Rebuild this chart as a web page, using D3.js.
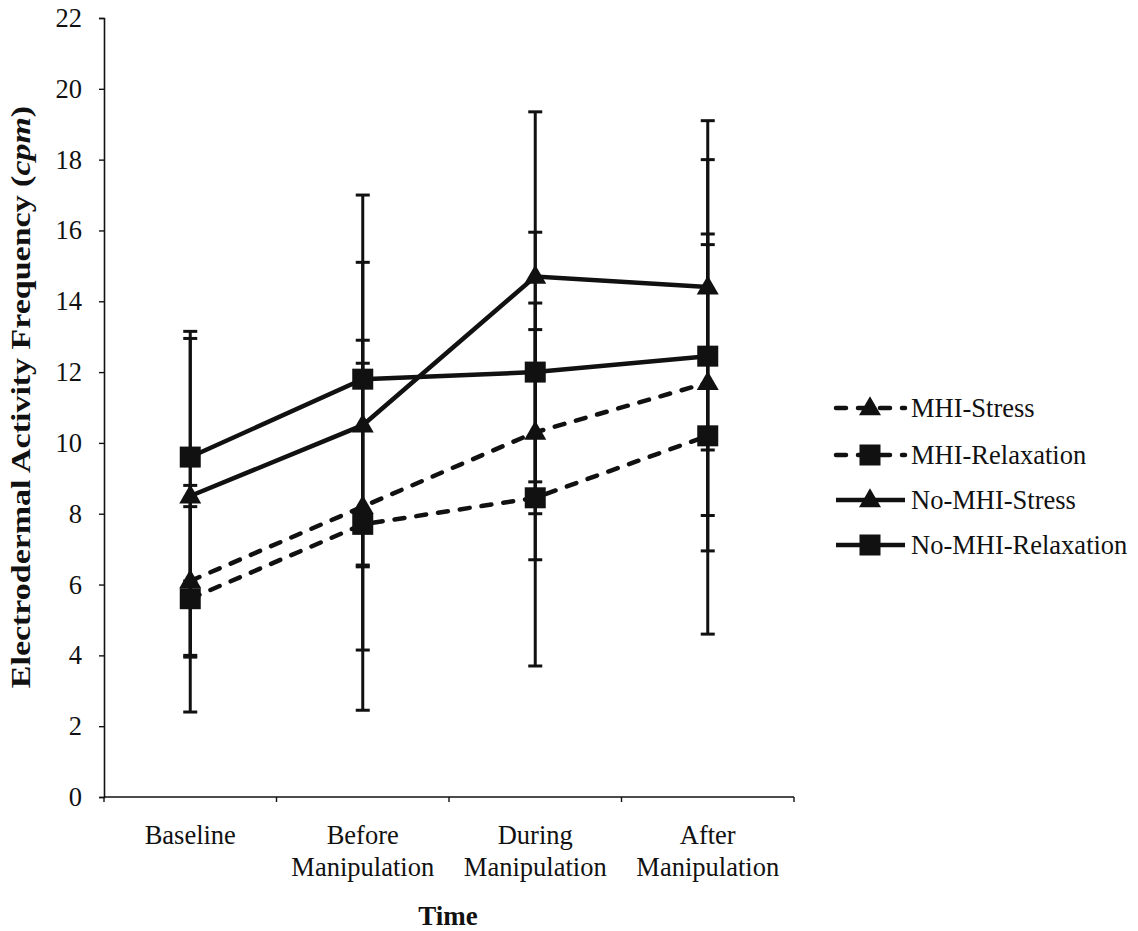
<!DOCTYPE html>
<html>
<head>
<meta charset="utf-8">
<script src="https://cdn.jsdelivr.net/npm/d3@7"></script>
<style>
  body { margin: 0; background: #fff; }
  svg { font-family: "Liberation Serif", "Times New Roman", serif; }
</style>
</head>
<body>
<svg id="chart" width="1138" height="931"></svg>
<script>
// categories on the x axis (two-line labels)
var timePoints = ["Baseline", "Before Manipulation", "During Manipulation", "After Manipulation"]
var tickLabels = [["Baseline"], ["Before", "Manipulation"], ["During", "Manipulation"], ["After", "Manipulation"]]
var yTicks = [0, 2, 4, 6, 8, 10, 12, 14, 16, 18, 20, 22]

var seriesNames = ["MHI-Stress", "MHI-Relaxation", "No-MHI-Stress", "No-MHI-Relaxation"]

// means
var mhiStress      = [6.1, 8.2, 10.3, 11.7]
var mhiRelax       = [5.6, 7.7, 8.45, 10.2]
var noMhiStress    = [8.5, 10.5, 14.7, 14.4]
var noMhiRelax     = [9.6, 11.8, 12.0, 12.45]

// error bar ends (lower / upper)
var mhiStressLo    = [4.0, 4.15, 6.7, 7.95]
var mhiStressHi    = [8.2, 12.25, 13.95, 15.6]
var mhiRelaxLo     = [2.4, 2.45, 3.7, 4.6]
var mhiRelaxHi     = [8.8, 12.9, 13.2, 15.9]
var noMhiStressLo  = [3.95, 6.5, 8.9, 9.8]
var noMhiStressHi  = [12.95, 15.1, 19.35, 19.1]
var noMhiRelaxLo   = [6.1, 6.55, 8.0, 6.95]
var noMhiRelaxHi   = [13.15, 17.0, 15.95, 18.0]

var series = [
  {name: seriesNames[0], vals: mhiStress, lo: mhiStressLo, hi: mhiStressHi, dashed: true, marker: "triangle"},
  {name: seriesNames[1], vals: mhiRelax, lo: mhiRelaxLo, hi: mhiRelaxHi, dashed: true, marker: "square"},
  {name: seriesNames[2], vals: noMhiStress, lo: noMhiStressLo, hi: noMhiStressHi, dashed: false, marker: "triangle"},
  {name: seriesNames[3], vals: noMhiRelax, lo: noMhiRelaxLo, hi: noMhiRelaxHi, dashed: false, marker: "square"}
]

var dims = {left: 104, right: 794, top: 18, bottom: 797}
var ink = "#111"
var fontSize = 26.5

var svg = d3.select("#chart")

var x = d3.scaleBand()
  .domain(timePoints)
  .range([dims.left, dims.right])
  .padding(0)

var y = d3.scaleLinear()
  .domain([0, 22])
  .range([dims.bottom, dims.top])

var cx = function(i) { return x(timePoints[i]) + x.bandwidth() / 2 }

// y axis
var yAxis = svg.append("g")
  .attr("transform", "translate(" + dims.left + ",0)")
  .call(d3.axisLeft(y).tickValues(yTicks).tickSize(5).tickPadding(17))
yAxis.select(".domain").attr("stroke", ink).attr("stroke-width", 1.6)
yAxis.selectAll(".tick line").attr("stroke", ink).attr("stroke-width", 1.4)
yAxis.selectAll("text")
  .attr("font-family", "Liberation Serif")
  .attr("font-size", fontSize)
  .attr("fill", ink)

// x axis: ticks at category boundaries, labels in the middle
var xAxis = svg.append("g")
  .attr("transform", "translate(0," + dims.bottom + ")")
xAxis.append("line")
  .attr("x1", dims.left).attr("x2", dims.right)
  .attr("stroke", ink).attr("stroke-width", 1.6)
var bounds = timePoints.map(function(d) { return x(d) }).concat([dims.right])
xAxis.selectAll(".btick")
  .data(bounds)
  .enter()
  .append("line")
  .attr("x1", d => d).attr("x2", d => d)
  .attr("y1", 0).attr("y2", 5)
  .attr("stroke", ink).attr("stroke-width", 1.4)

var labels = xAxis.selectAll(".cat")
  .data(tickLabels)
  .enter()
  .append("text")
  .attr("x", (d, i) => cx(i))
  .attr("y", 47)
  .attr("text-anchor", "middle")
  .attr("font-size", fontSize)
  .attr("fill", ink)
labels.selectAll("tspan")
  .data(d => d)
  .enter()
  .append("tspan")
  .attr("x", function() { return d3.select(this.parentNode).attr("x") })
  .attr("dy", (d, i) => i === 0 ? 0 : 32)
  .text(d => d)

// axis titles
svg.append("text")
  .attr("x", (dims.left + dims.right) / 2 - 1)
  .attr("y", 925)
  .attr("text-anchor", "middle")
  .attr("font-size", 27)
  .attr("font-weight", "bold")
  .attr("fill", ink)
  .text("Time")

// y title: a bit stretched along its length, like the scan
var yTitle = svg.append("text")
  .attr("transform", "translate(30," + 397 + ") rotate(-90) scale(1.2,1)")
  .attr("text-anchor", "middle")
  .attr("font-size", 28.3)
  .attr("font-weight", "bold")
  .attr("fill", ink)
yTitle.append("tspan").text("Electrodermal Activity Frequency (")
yTitle.append("tspan").attr("font-style", "italic").text("cpm")
yTitle.append("tspan").text(")")

// lines
var line = d3.line()
  .x((d, i) => cx(i))
  .y(d => y(d))

series.forEach(function(s) {
  svg.append("path")
    .datum(s.vals)
    .attr("fill", "none")
    .attr("stroke", ink)
    .attr("stroke-width", 4.5)
    .attr("stroke-linecap", s.dashed ? "round" : "butt")
    .attr("stroke-dasharray", s.dashed ? "10,12" : null)
    .attr("d", line)
})

// error bars
series.forEach(function(s) {
  var g = svg.append("g")
  s.vals.forEach(function(v, i) {
    g.append("line")
      .attr("x1", cx(i)).attr("x2", cx(i))
      .attr("y1", y(s.lo[i])).attr("y2", y(s.hi[i]))
      .attr("stroke", ink).attr("stroke-width", 3)
    ;[s.lo[i], s.hi[i]].forEach(function(e) {
      g.append("line")
        .attr("x1", cx(i) - 7).attr("x2", cx(i) + 7)
        .attr("y1", y(e)).attr("y2", y(e))
        .attr("stroke", ink).attr("stroke-width", 3)
    })
  })
})

// markers
var triangle = d3.symbol().type(d3.symbolTriangle).size(210)
var drawMarker = function(g, kind, px, py) {
  if (kind === "square") {
    g.append("rect")
      .attr("x", px - 10.5).attr("y", py - 10.5)
      .attr("width", 21).attr("height", 21)
      .attr("fill", ink)
  } else {
    g.append("path")
      .attr("d", triangle())
      .attr("transform", "translate(" + px + "," + (py + 1) + ")")
      .attr("fill", ink)
  }
}
series.forEach(function(s) {
  var g = svg.append("g")
  s.vals.forEach(function(v, i) { drawMarker(g, s.marker, cx(i), y(v)) })
})

// legend
var legend = svg.append("g")
var rowY = [408, 455, 500, 545]
series.forEach(function(s, i) {
  var ly = rowY[i]
  legend.append("line")
    .attr("x1", 836).attr("x2", 905)
    .attr("y1", ly).attr("y2", ly)
    .attr("stroke", ink)
    .attr("stroke-width", 4.5)
    .attr("stroke-linecap", s.dashed ? "round" : "butt")
    .attr("stroke-dasharray", s.dashed ? "10,12" : null)
  drawMarker(legend, s.marker, 870, ly)
  legend.append("text")
    .attr("x", 911)
    .attr("y", ly + 9)
    .attr("font-size", fontSize)
    .attr("fill", ink)
    .text(s.name)
})
</script>
</body>
</html>
